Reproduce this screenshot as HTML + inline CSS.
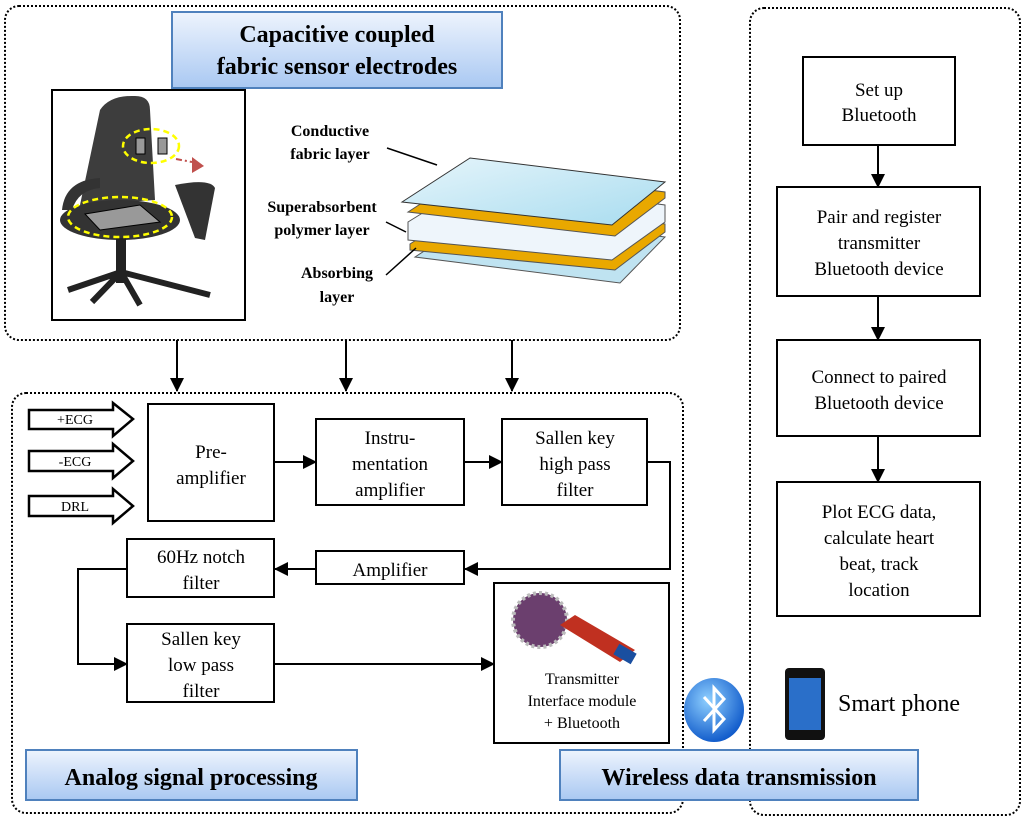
<!DOCTYPE html>
<html><head><meta charset="utf-8"><style>
html,body{margin:0;padding:0;background:#fff}
svg{display:block}
text{font-family:"Liberation Serif",serif;fill:#000}
</style></head><body>
<svg width="1024" height="820" viewBox="0 0 1024 820" xmlns="http://www.w3.org/2000/svg">
<defs>
<linearGradient id="lb" x1="0" y1="0" x2="0" y2="1"><stop offset="0" stop-color="#eef4fd"/><stop offset="1" stop-color="#a9c8f2"/></linearGradient>
<linearGradient id="sh" x1="0" y1="0" x2="1" y2="1"><stop offset="0" stop-color="#e6f5fb"/><stop offset="1" stop-color="#a8dcef"/></linearGradient>
<radialGradient id="bt" cx="0.4" cy="0.35" r="0.7"><stop offset="0" stop-color="#8fd0ff"/><stop offset="1" stop-color="#0a55c8"/></radialGradient>
<marker id="ah" markerWidth="14" markerHeight="14" refX="13" refY="7" orient="auto" markerUnits="userSpaceOnUse"><path d="M0,0 L14,7 L0,14 z" fill="#000"/></marker>
</defs>
<g fill="none" stroke="#000" stroke-width="2" stroke-dasharray="2,2">
<rect x="5" y="6" width="675" height="334" rx="14"/>
<rect x="750" y="8" width="270" height="807" rx="14"/>
<rect x="12" y="393" width="671" height="420" rx="14"/>
</g>
<!-- title -->
<rect x="172" y="12" width="330" height="76" fill="url(#lb)" stroke="#4f81bd" stroke-width="2"/>
<text x="337" y="42" font-size="24" font-weight="bold" text-anchor="middle">Capacitive coupled</text>
<text x="337" y="74" font-size="24" font-weight="bold" text-anchor="middle">fabric sensor electrodes</text>
<!-- chair -->
<rect x="52" y="90" width="193" height="230" fill="#fff" stroke="#000" stroke-width="2"/>
<path d="M100,110 Q110,95 135,96 Q150,96 150,110 L155,200 L80,205 Z" fill="#3d3d3d"/>
<path d="M62,210 Q65,180 100,178 L100,188 Q78,190 72,210 Z" fill="#333"/>
<path d="M175,185 Q210,178 215,188 L205,240 L195,238 Z" fill="#333"/>
<ellipse cx="120" cy="220" rx="60" ry="20" fill="#333"/>
<rect x="116" y="238" width="10" height="45" fill="#222"/>
<path d="M68,290 L121,272 L210,295 M92,302 L121,272 L140,305" stroke="#222" stroke-width="6" fill="none"/>
<ellipse cx="151" cy="146" rx="28" ry="17" fill="none" stroke="#ff0" stroke-width="2.5" stroke-dasharray="6,4"/>
<rect x="136" y="138" width="9" height="16" fill="#999" stroke="#000"/><rect x="158" y="138" width="9" height="16" fill="#999" stroke="#000"/>
<ellipse cx="120" cy="217" rx="52" ry="20" fill="none" stroke="#ff0" stroke-width="2.5" stroke-dasharray="6,4"/>
<path d="M85,214 L140,205 L160,222 L100,230 Z" fill="#999" stroke="#000"/>
<path d="M176,159 L192,162" stroke="#c0504d" stroke-width="2" stroke-dasharray="6,3,2,3"/>
<path d="M192,157 L204,166 L192,173 Z" fill="#c0504d"/>
<!-- layers -->
<path d="M415,257 L483,213 L665,237 L620,283 Z" fill="#bfe3f1" stroke="#555"/>
<path d="M410,244 L478,200 L665,224 L665,232 L615,270 L410,250 Z" fill="#e9a800" stroke="#555"/>
<path d="M408,222 L476,180 L665,205 L665,222 L612,260 L408,240 Z" fill="#eef5fb" stroke="#555"/>
<path d="M408,212 L476,168 L665,192 L665,198 L615,236 Z" fill="#e9a800" stroke="#555"/>
<path d="M402,202 L470,158 L665,182 L612,225 Z" fill="url(#sh)" stroke="#333"/>
<g font-size="16" font-weight="bold" text-anchor="middle">
<text x="330" y="136">Conductive</text><text x="330" y="159">fabric layer</text>
<text x="322" y="212">Superabsorbent</text><text x="322" y="235">polymer layer</text>
<text x="337" y="278">Absorbing</text><text x="337" y="302">layer</text>
</g>
<g stroke="#000" stroke-width="1.5"><line x1="387" y1="148" x2="437" y2="165"/><line x1="386" y1="222" x2="406" y2="232"/><line x1="386" y1="275" x2="416" y2="248"/></g>
<!-- down arrows -->
<g stroke="#000" stroke-width="2" marker-end="url(#ah)"><line x1="177" y1="340" x2="177" y2="391"/><line x1="346" y1="340" x2="346" y2="391"/><line x1="512" y1="340" x2="512" y2="391"/></g>
<!-- right column -->
<g fill="#fff" stroke="#000" stroke-width="2">
<rect x="803" y="57" width="152" height="88"/><rect x="777" y="187" width="203" height="109"/><rect x="777" y="340" width="203" height="96"/><rect x="777" y="482" width="203" height="134"/>
</g>
<g stroke="#000" stroke-width="2" marker-end="url(#ah)"><line x1="878" y1="145" x2="878" y2="187"/><line x1="878" y1="296" x2="878" y2="340"/><line x1="878" y1="436" x2="878" y2="482"/></g>
<g font-size="19" text-anchor="middle">
<text x="879" y="96">Set up</text><text x="879" y="121">Bluetooth</text>
<text x="879" y="223">Pair and register</text><text x="879" y="249">transmitter</text><text x="879" y="275">Bluetooth device</text>
<text x="879" y="383">Connect to paired</text><text x="879" y="409">Bluetooth device</text>
<text x="879" y="518">Plot ECG data,</text><text x="879" y="544">calculate heart</text><text x="879" y="570">beat, track</text><text x="879" y="596">location</text>
</g>
<!-- input arrows -->
<g fill="#fff" stroke="#000" stroke-width="2.5">
<path d="M29,410 L113,410 L113,403 L133,419 L113,436 L113,429 L29,429 Z"/>
<path d="M29,451 L113,451 L113,444 L133,461 L113,478 L113,471 L29,471 Z"/>
<path d="M29,496 L113,496 L113,489 L133,506 L113,523 L113,516 L29,516 Z"/>
</g>
<g font-size="14" text-anchor="middle"><text x="75" y="424">+ECG</text><text x="75" y="466">-ECG</text><text x="75" y="511">DRL</text></g>
<!-- blocks -->
<g fill="#fff" stroke="#000" stroke-width="2">
<rect x="148" y="404" width="126" height="117"/><rect x="316" y="419" width="148" height="86"/><rect x="502" y="419" width="145" height="86"/>
<rect x="316" y="551" width="148" height="33"/><rect x="127" y="539" width="147" height="58"/><rect x="127" y="624" width="147" height="78"/>
<rect x="494" y="583" width="175" height="160"/>
</g>
<g stroke="#000" stroke-width="2" fill="none" marker-end="url(#ah)">
<line x1="274" y1="462" x2="316" y2="462"/><line x1="464" y1="462" x2="502" y2="462"/>
<polyline points="647,462 670,462 670,569 465,569"/>
<line x1="316" y1="569" x2="275" y2="569"/>
<polyline points="127,569 78,569 78,664 127,664"/>
<line x1="274" y1="664" x2="494" y2="664"/>
</g>
<g font-size="19" text-anchor="middle">
<text x="211" y="458">Pre-</text><text x="211" y="484">amplifier</text>
<text x="390" y="444">Instru-</text><text x="390" y="470">mentation</text><text x="390" y="496">amplifier</text>
<text x="575" y="444">Sallen key</text><text x="575" y="470">high pass</text><text x="575" y="496">filter</text>
<text x="390" y="576">Amplifier</text>
<text x="201" y="563">60Hz notch</text><text x="201" y="589">filter</text>
<text x="201" y="645">Sallen key</text><text x="201" y="671">low pass</text><text x="201" y="697">filter</text>
</g>
<g font-size="16" text-anchor="middle"><text x="582" y="684">Transmitter</text><text x="582" y="706">Interface module</text><text x="582" y="728">+ Bluetooth</text></g>
<!-- board -->
<circle cx="540" cy="620" r="27" fill="#6b3f6e" stroke="#bbb" stroke-width="4" stroke-dasharray="3,3"/>
<path d="M560,625 L575,615 L635,650 L620,662 Z" fill="#c03020"/>
<rect x="615" y="648" width="20" height="12" fill="#1a4fa0" transform="rotate(30 625 654)"/>
<!-- bluetooth -->
<ellipse cx="714" cy="710" rx="30" ry="32" fill="url(#bt)"/>
<path d="M704,697 L724,719 L714,730 L714,688 L724,699 L704,721" fill="none" stroke="#fff" stroke-width="3"/>
<!-- phone -->
<rect x="785" y="668" width="40" height="72" rx="4" fill="#111"/>
<rect x="789" y="678" width="32" height="52" fill="#2a6fc9"/>
<text x="838" y="711" font-size="24">Smart phone</text>
<!-- labels -->
<rect x="26" y="750" width="331" height="50" fill="url(#lb)" stroke="#4f81bd" stroke-width="2"/>
<text x="191" y="785" font-size="24" font-weight="bold" text-anchor="middle">Analog signal processing</text>
<rect x="560" y="750" width="358" height="50" fill="url(#lb)" stroke="#4f81bd" stroke-width="2"/>
<text x="739" y="785" font-size="24" font-weight="bold" text-anchor="middle">Wireless  data transmission</text>
</svg>
</body></html>
